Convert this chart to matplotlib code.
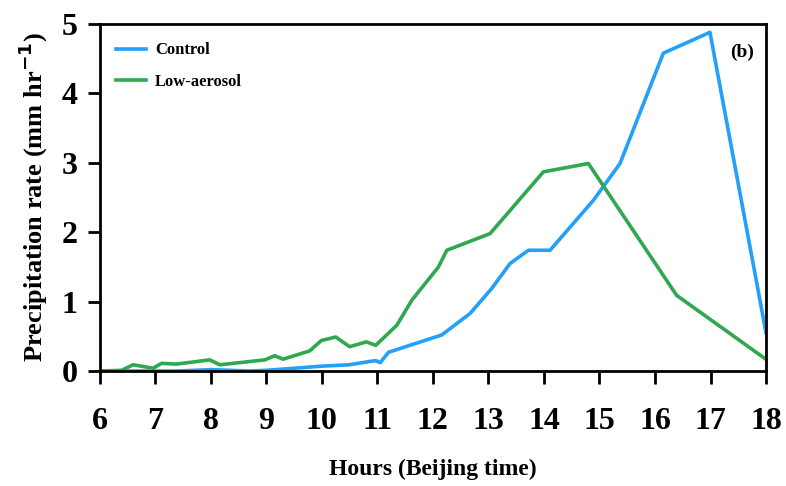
import matplotlib
matplotlib.use("Agg")
import matplotlib.pyplot as plt

ctrl_h = [6.0, 7.4, 8.0, 8.7, 9.0, 9.5, 10.0, 10.5, 10.8, 10.97, 11.05, 11.2, 12.16, 12.67, 13.06,
          13.39, 13.72, 14.11, 14.89, 15.37, 16.15, 16.99, 18.0]
ctrl_v = [0.0, 0.0, 0.02, 0.0, 0.01, 0.04, 0.07, 0.09, 0.13, 0.15, 0.12, 0.27, 0.52, 0.83, 1.19,
          1.55, 1.74, 1.74, 2.46, 2.99, 4.58, 4.88, 0.55]

low_h = [6.0, 6.39, 6.6, 6.96, 7.11, 7.38, 7.98, 8.16, 8.97, 9.15, 9.3, 9.78, 9.99, 10.25, 10.5,
         10.8, 10.97, 11.35, 11.62, 12.1, 12.25, 13.03, 13.99, 14.8, 16.39, 17.98]
low_v = [0.0, 0.01, 0.09, 0.04, 0.11, 0.10, 0.16, 0.09, 0.16, 0.22, 0.17, 0.29, 0.44, 0.49, 0.35,
         0.42, 0.37, 0.66, 1.02, 1.50, 1.74, 1.98, 2.87, 2.99, 1.09, 0.18]

xticks = list(range(6, 19))
yticks = [0, 1, 2, 3, 4, 5]

plt.rcParams['font.family'] = ['Liberation Serif', 'DejaVu Serif']
plt.rcParams['font.weight'] = 'bold'

fig = plt.figure(figsize=(7.86, 4.86), dpi=100)
ax = fig.add_axes([0.127, 0.2366, 0.8476, 0.714])

ax.plot(ctrl_h, ctrl_v, color='#22a0fa', lw=2.6, label='Control')
ax.plot(low_h, low_v, color='#2fa84f', lw=2.6, label='Low-aerosol')

ax.set_xlim(6, 18)
ax.set_ylim(0, 5)
ax.set_xticks(xticks)
ax.set_yticks(yticks)
ax.tick_params(axis='both', direction='out', length=9, width=2, labelsize=23, right=False, top=False)
ax.tick_params(axis='x', pad=17)
ax.tick_params(axis='y', pad=7)
for s in ax.spines.values():
    s.set_linewidth(2)
for lab in ax.get_xticklabels() + ax.get_yticklabels():
    lab.set_fontweight('bold')

ax.set_xlabel('Hours (Beijing time)', fontsize=17, fontweight='bold', labelpad=16)
ax.set_ylabel('Precipitation rate (mm hr$^{\\mathbf{-1}}$)', fontsize=19, fontweight='bold', labelpad=8)

leg = ax.legend(loc='upper left', frameon=False, handlelength=1.8, handletextpad=0.5,
                bbox_to_anchor=(0.0, 0.995), borderaxespad=0.6, labelspacing=0.95,
                prop={'weight': 'bold', 'size': 12})
ax.text(0.964, 0.919, '(b)', transform=ax.transAxes, ha='center', va='center', fontsize=14, fontweight='bold')

fig.savefig('out.png', dpi=100)
